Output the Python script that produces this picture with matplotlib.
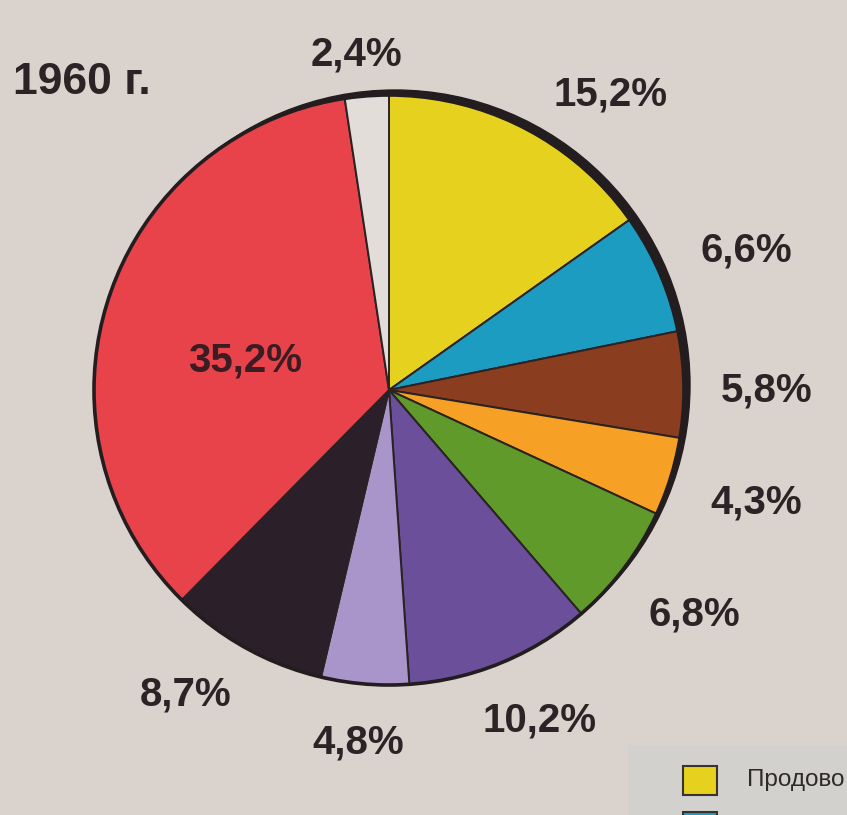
import matplotlib.pyplot as plt
from matplotlib.patches import Circle, Rectangle

# --- data: shares in 1960, clockwise from the top ---
shares = [15.2, 6.6, 5.8, 4.3, 6.8, 10.2, 4.8, 8.7, 35.2, 2.4]
share_labels = ["15,2%", "6,6%", "5,8%", "4,3%", "6,8%",
                "10,2%", "4,8%", "8,7%", "35,2%", "2,4%"]
year_label = "1960 г."
legend_entry = "Продово"   # the rest of the legend is cut off in the source

colors = ["#e6d11f", "#1c9cc0", "#8a3d1f", "#f6a125", "#5f9a2a",
          "#6b4f9b", "#a995c9", "#2b1f2a", "#e8434b", "#e2ddd8"]

# label centres in pixel coords (x, y from top)
label_pos = [(611, 95), (746, 251), (767, 390), (756, 503), (694, 615),
             (540, 721), (358, 743), (186, 695), (245, 360), (356, 55)]

W, H = 847, 815
cx, cy, r = 389, 390, 295
bg = "#dad2cc"
ink = "#2a2426"

plt.rcParams['font.family'] = ['Liberation Sans', 'DejaVu Sans']

fig = plt.figure(figsize=(W / 100, H / 100), dpi=100, facecolor=bg)
ax = fig.add_axes([0, 0, 1, 1])
ax.set_facecolor(bg)

# shadow rim to the upper right
ax.add_patch(Circle((cx + 6, H - cy + 5), r, color="#231d1f", zorder=1))

wedges, _ = ax.pie(shares, colors=colors, startangle=90, counterclock=False,
                   center=(cx, H - cy), radius=r,
                   wedgeprops=dict(edgecolor="#2b2224", linewidth=1.4))
for w in wedges:
    w.set_zorder(2)
ax.add_patch(Circle((cx, H - cy), r, fill=False, edgecolor="#231d1f",
                    linewidth=2.6, zorder=3))

for text, (x, y) in zip(share_labels, label_pos):
    col = "#3a1c22" if text == "35,2%" else ink
    ax.text(x, H - y, text, fontsize=29, fontweight="bold", color=col,
            ha="center", va="center", zorder=4)

ax.text(13, H - 82, year_label, fontsize=32, fontweight="bold", color=ink,
        ha="left", va="center")

# corner of the legend panel
ax.add_patch(Rectangle((628, 0), W - 628, H - 745, facecolor="#d3d1cd",
                       edgecolor="none", zorder=1))
ax.add_patch(Rectangle((683, H - 795), 34, 29, facecolor=colors[0],
                       edgecolor="#3a3230", linewidth=1.5, zorder=2))
ax.add_patch(Rectangle((683, H - 845), 34, 33, facecolor=colors[1],
                       edgecolor="#3a3230", linewidth=1.5, zorder=2))
ax.text(747, H - 780, legend_entry, fontsize=17.5, color="#2e2a2a",
        ha="left", va="center", zorder=3)

ax.set_xlim(0, W)
ax.set_ylim(0, H)
ax.set_aspect("equal")
ax.axis("off")

fig.savefig("out.png", dpi=100, facecolor=bg)
